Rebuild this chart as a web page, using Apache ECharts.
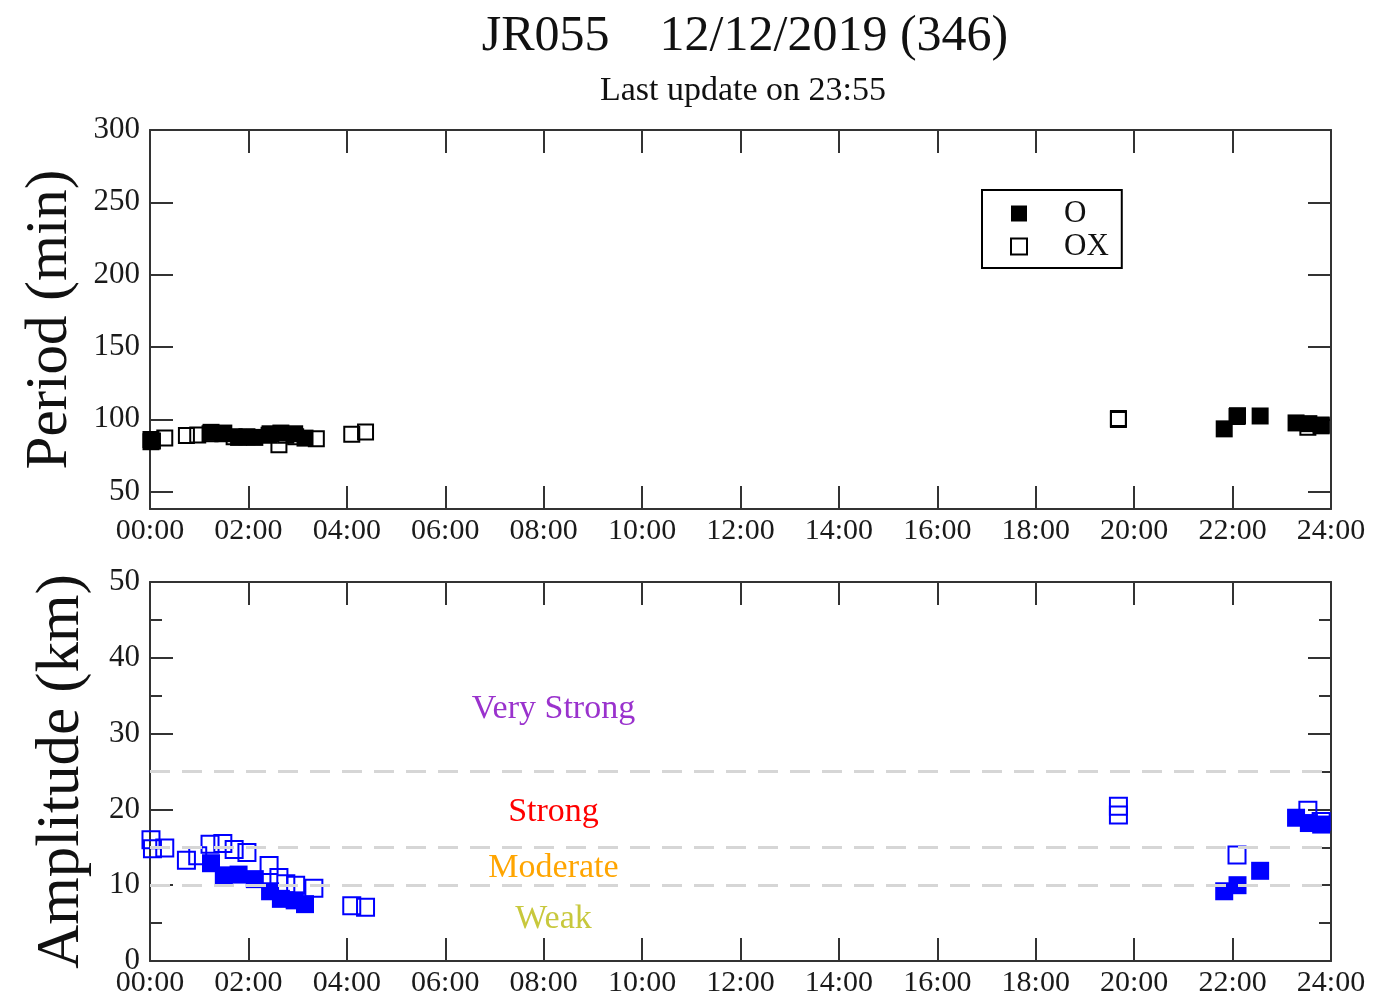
<!DOCTYPE html>
<html>
<head>
<meta charset="utf-8">
<title>JR055 12/12/2019 (346)</title>
<script src="https://cdn.jsdelivr.net/npm/echarts@6/dist/echarts.min.js"></script>
<style>
  html, body { margin: 0; padding: 0; background: #fff; }
  #chart { width: 1377px; height: 1000px; }
</style>
</head>
<body>
<div id="chart"></div>
<script>
// ---- data ----
const periodTicks = [50, 100, 150, 200, 250, 300];

// Period (min), O mode (filled) and OX mode (hollow)
const periodHoursO = [0.02, 1.24, 1.50, 1.80, 2.13, 2.44, 2.66, 2.94, 3.15, 21.83, 22.10, 22.56, 23.29, 23.55, 23.80];
const periodO      = [84.5, 91.0, 90.5, 87.5, 87.5, 90.0, 90.5, 90.0, 87.0, 93.4, 102.5, 102.3, 97.5, 97.0, 95.5];
const periodHoursOX = [0.02, 0.05, 0.30, 0.74, 0.97, 1.22, 1.48, 1.71, 1.97, 2.42, 2.62, 2.76, 2.96, 3.38, 4.10, 4.38, 19.68, 19.68, 22.09, 23.53, 23.80];
const periodOX      = [86.0, 85.0, 87.0, 88.8, 89.2, 90.0, 90.0, 88.0, 88.0, 89.0, 82.5, 89.0, 88.0, 86.5, 89.6, 91.3, 100.5, 99.8, 102.0, 94.5, 96.0];

// Amplitude (km), O mode (filled) and OX mode (hollow)
const ampHoursO = [1.24, 1.50, 1.80, 2.13, 2.44, 2.66, 2.94, 3.15, 21.83, 22.10, 22.56, 23.29, 23.55, 23.80];
const ampO      = [12.9, 11.3, 11.4, 10.8, 9.2, 8.2, 8.0, 7.5, 9.2, 10.0, 11.9, 18.9, 18.2, 18.0];
const ampHoursOX = [0.02, 0.05, 0.30, 0.74, 0.97, 1.22, 1.48, 1.71, 1.97, 2.42, 2.62, 2.76, 2.96, 3.33, 4.10, 4.38, 19.68, 19.68, 22.09, 23.53, 23.80];
const ampOX      = [16.0, 14.8, 14.9, 13.3, 13.9, 15.4, 15.5, 14.7, 14.3, 12.6, 11.0, 10.2, 10.0, 9.6, 7.3, 7.1, 20.4, 19.25, 14.0, 19.9, 18.4];

// Strength zones
const zoneBounds = [10, 15, 25];
const zoneNames  = ['Very Strong', 'Strong', 'Moderate', 'Weak'];
const zoneLabelY = [33.3, 19.7, 12.2, 5.5];
const zoneLabelX = 8.2;
const zoneColors = ['#9a32cd', '#ff0000', '#ffa500', '#c8c83c'];

// ---- chart ----
const FONT = '"Liberation Serif", "Times New Roman", serif';
const AXIS_COLOR = '#333';

function pairs(xs, ys) { return xs.map((x, i) => [x, ys[i]]); }
function hhmm(v) { return (v < 10 ? '0' : '') + v + ':00'; }

function xAxisFor(gridIndex, position, showLabel) {
  return {
    type: 'value', gridIndex, position, min: 0, max: 24, interval: 2,
    axisLine: { show: true, onZero: false, lineStyle: { color: AXIS_COLOR, width: 2 } },
    axisTick: { show: true, inside: true, length: 23, lineStyle: { color: AXIS_COLOR, width: 2 } },
    axisLabel: { show: showLabel, formatter: hhmm, margin: 7, fontFamily: FONT, fontSize: 30, color: '#1a1a1a' },
    splitLine: { show: false }
  };
}

function yAxisFor(gridIndex, position, range, extra) {
  const ax = {
    type: 'value', gridIndex, position, min: range[0], max: range[1],
    axisLine: { show: true, onZero: false, lineStyle: { color: AXIS_COLOR, width: 2 } },
    axisTick: { show: true, inside: true, length: 23, lineStyle: { color: AXIS_COLOR, width: 2 } },
    axisLabel: { show: position === 'left', margin: 10, fontFamily: FONT, fontSize: 31, color: '#1a1a1a' },
    splitLine: { show: false }, minorSplitLine: { show: false }
  };
  return Object.assign(ax, extra || {});
}

const series = [];
// top panel
series.push({
  name: 'OX', type: 'scatter', xAxisIndex: 0, yAxisIndex: 0,
  symbol: 'rect', symbolSize: 15,
  itemStyle: { color: 'rgba(255,255,255,0)', borderColor: '#000', borderWidth: 2, opacity: 1 },
  data: pairs(periodHoursOX, periodOX)
});
series.push({
  name: 'O', type: 'scatter', xAxisIndex: 0, yAxisIndex: 0,
  symbol: 'rect', symbolSize: 17,
  itemStyle: { color: '#000', opacity: 1 },
  data: pairs(periodHoursO, periodO)
});
// bottom panel
series.push({
  name: 'OX', type: 'scatter', xAxisIndex: 2, yAxisIndex: 2,
  symbol: 'rect', symbolSize: 17,
  itemStyle: { color: 'rgba(255,255,255,0)', borderColor: '#0000ff', borderWidth: 2, opacity: 1 },
  data: pairs(ampHoursOX, ampOX),
  markLine: {
    silent: true, symbol: 'none', label: { show: false },
    lineStyle: { color: '#d6d6d6', width: 3, type: [20, 12] },
    data: zoneBounds.map(v => ({ yAxis: v }))
  }
});
series.push({
  name: 'O', type: 'scatter', xAxisIndex: 2, yAxisIndex: 2,
  symbol: 'rect', symbolSize: 18,
  itemStyle: { color: '#0000ff', opacity: 1 },
  data: pairs(ampHoursO, ampO)
});
// zone captions
series.push({
  name: 'zones', type: 'scatter', xAxisIndex: 2, yAxisIndex: 2,
  symbolSize: 0, silent: true, z: 1,
  itemStyle: { opacity: 1 },
  data: zoneNames.map((n, i) => ({
    name: n, value: [zoneLabelX, zoneLabelY[i]],
    label: { color: zoneColors[i] }
  })),
  label: {
    show: true, position: 'inside', formatter: p => p.name,
    fontFamily: FONT, fontSize: 34
  }
});

const option = {
  backgroundColor: '#fff',
  animation: false,
  title: [
    {
      text: 'JR055    12/12/2019 (346)', left: 745, top: 12, textAlign: 'center', padding: 0,
      textStyle: { fontFamily: FONT, fontSize: 50, fontWeight: 'normal', color: '#111' }
    },
    {
      text: 'Last update on 23:55', left: 743, top: 74, textAlign: 'center', padding: 0,
      textStyle: { fontFamily: FONT, fontSize: 34, fontWeight: 'normal', color: '#111' }
    }
  ],
  legend: {
    data: ['O', 'OX'], orient: 'vertical', left: 982, top: 190,
    borderColor: '#000', borderWidth: 2, borderRadius: 0,
    padding: [8, 13, 6, 28], itemGap: 2, itemWidth: 16, itemHeight: 16,
    selectedMode: false,
    textStyle: { fontFamily: FONT, fontSize: 31, color: '#111', padding: [0, 0, 0, 32] }
  },
  grid: [
    { left: 150, right: 46, top: 130, height: 379, containLabel: false, outerBoundsMode: 'none' },
    { left: 150, right: 46, top: 582, height: 379, containLabel: false, outerBoundsMode: 'none' }
  ],
  xAxis: [
    xAxisFor(0, 'bottom', true),
    xAxisFor(0, 'top', false),
    xAxisFor(1, 'bottom', true),
    xAxisFor(1, 'top', false)
  ],
  yAxis: [
    yAxisFor(0, 'left', [38, 300], {
      name: 'Period (min)', nameLocation: 'middle', nameGap: 70, nameRotate: 90,
      nameTextStyle: { fontFamily: FONT, fontSize: 59, color: '#111' }
    }),
    yAxisFor(0, 'right', [38, 300]),
    yAxisFor(1, 'left', [0, 50], {
      interval: 10,
      name: 'Amplitude (km)', nameLocation: 'middle', nameGap: 58, nameRotate: 90,
      nameTextStyle: { fontFamily: FONT, fontSize: 61, color: '#111' },
      minorTick: { show: true, splitNumber: 2, length: 12, lineStyle: { color: AXIS_COLOR, width: 2 } }
    }),
    yAxisFor(1, 'right', [0, 50], {
      interval: 10,
      minorTick: { show: true, splitNumber: 2, length: 12, lineStyle: { color: AXIS_COLOR, width: 2 } }
    })
  ],
  series
};
// the period axis has an odd lower bound, so its ticks and labels are listed explicitly
option.yAxis[0].axisTick.customValues = periodTicks;
option.yAxis[0].axisLabel.customValues = periodTicks;
option.yAxis[1].axisTick.customValues = periodTicks;

const chart = echarts.init(document.getElementById('chart'), null, { renderer: 'canvas' });
chart.setOption(option);
</script>
</body>
</html>
